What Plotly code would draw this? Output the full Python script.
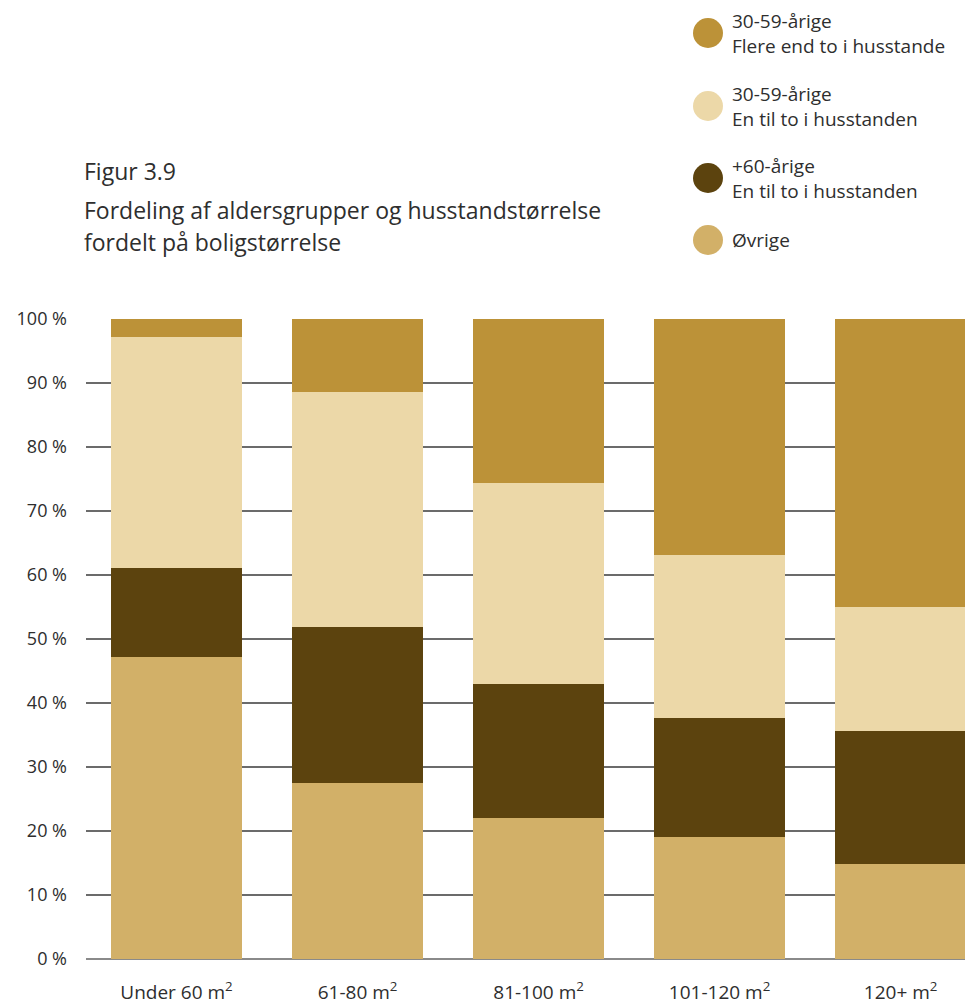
import plotly.graph_objects as go

categories = ["Under 60 m<sup>2</sup>", "61-80 m<sup>2</sup>", "81-100 m<sup>2</sup>",
              "101-120 m<sup>2</sup>", "120+ m<sup>2</sup>"]

ovrige = [47.2, 27.5, 22.0, 19.1, 14.8]
aarige60_1_2 = [13.9, 24.4, 21.0, 18.6, 20.8]
aarige30_1_2 = [36.1, 36.7, 31.4, 25.4, 19.4]
aarige30_flere = [2.8, 11.4, 25.6, 36.9, 45.0]

series_names = ["Øvrige", "+60-årige<br>En til to i husstanden",
                "30-59-årige<br>En til to i husstanden",
                "30-59-årige<br>Flere end to i husstande"]
series_values = [ovrige, aarige60_1_2, aarige30_1_2, aarige30_flere]
colors = ["#D2B068", "#5C430E", "#ECD8A8", "#BC9238"]

y_ticks = [0, 10, 20, 30, 40, 50, 60, 70, 80, 90, 100]
y_ticktext = [f"{v} %" for v in y_ticks]

title_lines = ["Figur 3.9", "Fordeling af aldersgrupper og husstandstørrelse",
               "fordelt på boligstørrelse"]

FONT = "Open Sans"
TEXT = "#2e2e2e"

OFF = 8  # page body offset
W, H = 973, 1003
ML, MT = 86 - OFF, 319 - OFF
MR = OFF
MB = H - (959 - OFF)
PW, PH = W - ML - MR, H - MT - MB

fig = go.Figure()
for name, vals, col in zip(series_names, series_values, colors):
    fig.add_trace(go.Bar(x=categories, y=vals, name=name,
                         marker=dict(color=col, line=dict(width=0)), showlegend=False))

fig.update_layout(
    width=W, height=H,
    margin=dict(l=ML, r=MR, t=MT, b=MB, autoexpand=False),
    barmode="stack", bargap=0.276,
    plot_bgcolor="white", paper_bgcolor="white",
    font=dict(family=FONT, color=TEXT, size=18),
    xaxis=dict(range=[-0.5, 4.4], showgrid=False, showline=False, ticks="", automargin=False,
               tickfont=dict(size=19, color=TEXT), ticklabelstandoff=20),
    yaxis=dict(range=[0, 100], tickvals=y_ticks, ticktext=y_ticktext, automargin=False,
               showgrid=True, gridcolor="#6b6b6b", gridwidth=1.5,
               zeroline=True, zerolinecolor="#8a8a8a", zerolinewidth=1.5,
               showline=False, ticks="", tickfont=dict(size=18, color=TEXT),
               ticklabelstandoff=18),
)

def py_(ref_y):
    return (H - MB - (ref_y - OFF)) / PH

def px_(ref_x):
    return (ref_x - OFF - ML) / PW

# Title (one annotation per line)
for line, ly in zip(title_lines, [171, 210, 242]):
    fig.add_annotation(xref="paper", yref="paper", x=px_(82), y=py_(ly),
                       xanchor="left", yanchor="middle", align="left", showarrow=False,
                       text=line, font=dict(family=FONT, size=23, color=TEXT))

# Manual legend
legend_order = [3, 2, 1, 0]
legend_y = [33, 106, 178, 240]
for idx, ly in zip(legend_order, legend_y):
    fig.add_shape(type="circle", xref="paper", yref="paper",
                  x0=px_(693), x1=px_(723),
                  y0=py_(ly + 15), y1=py_(ly - 15),
                  fillcolor=colors[idx], line=dict(width=0), layer="above")
    fig.add_annotation(xref="paper", yref="paper", x=px_(730),
                       y=py_(ly), xanchor="left", yanchor="middle",
                       align="left", showarrow=False, text=series_names[idx],
                       font=dict(family=FONT, size=19, color=TEXT))

fig.write_html("out.html")
